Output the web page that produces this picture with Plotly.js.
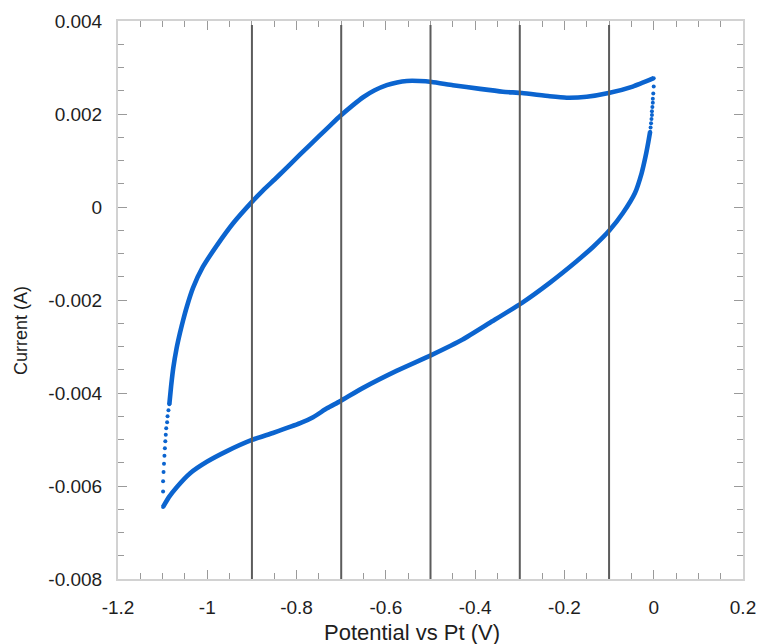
<!DOCTYPE html>
<html>
<head>
<meta charset="utf-8">
<script src="https://cdn.plot.ly/plotly-3.0.1.min.js"></script>
<style>
  html, body { margin: 0; padding: 0; background: #ffffff; }
  #chart { width: 759px; height: 644px; }
</style>
</head>
<body>
<div id="chart"></div>
<script>
// ---- Data (potential in V, current in A) ----
// Cathodic sweep: 0 V -> -1.1 V (sparse points right after reversal at 0 V)
const cathodicDotsX = [0.000, 0.000, -0.001, -0.002, -0.002, -0.003, -0.004, -0.004, -0.005, -0.006, -0.007, -0.008];
const cathodicDotsY = [0.00277, 0.00259, 0.00244, 0.00233, 0.00224, 0.00215, 0.00206, 0.00198, 0.00189, 0.00180, 0.00171, 0.00162];
const cathodicX = [-0.008, -0.012, -0.018, -0.027, -0.042, -0.069, -0.098, -0.136, -0.172, -0.233, -0.295, -0.367, -0.428, -0.497, -0.575, -0.651, -0.703, -0.732, -0.763, -0.792, -0.853, -0.900, -0.956, -1.001, -1.039, -1.068, -1.086, -1.099];
const cathodicY = [0.00162, 0.00140, 0.00110, 0.00073, 0.00030, -0.00013, -0.00049, -0.00086, -0.00116, -0.00163, -0.00206, -0.00249, -0.00285, -0.00318, -0.00352, -0.00389, -0.00418, -0.00433, -0.00452, -0.00465, -0.00486, -0.00501, -0.00525, -0.00548, -0.00573, -0.00602, -0.00624, -0.00645];

// Anodic sweep: -1.1 V -> 0 V (sparse points right after reversal at -1.1 V)
const anodicDotsX = [-1.099, -1.099, -1.099, -1.098, -1.097, -1.096, -1.095, -1.094, -1.093, -1.092, -1.090, -1.089, -1.087, -1.085];
const anodicDotsY = [-0.00645, -0.00612, -0.00590, -0.00570, -0.00552, -0.00535, -0.00519, -0.00504, -0.00490, -0.00476, -0.00463, -0.00450, -0.00437, -0.00424];
const anodicX = [-1.085, -1.081, -1.076, -1.069, -1.061, -1.054, -1.046, -1.032, -1.010, -0.978, -0.943, -0.900, -0.875, -0.844, -0.792, -0.748, -0.725, -0.703, -0.675, -0.651, -0.625, -0.598, -0.575, -0.553, -0.525, -0.497, -0.450, -0.389, -0.338, -0.295, -0.233, -0.195, -0.150, -0.101, -0.047, 0.000];
const anodicY = [-0.00424, -0.00385, -0.00345, -0.00305, -0.00270, -0.00243, -0.00215, -0.00174, -0.00129, -0.00082, -0.00036, 0.00011, 0.00036, 0.00064, 0.00113, 0.00154, 0.00175, 0.00195, 0.00218, 0.00236, 0.00251, 0.00262, 0.00268, 0.00271, 0.00271, 0.00269, 0.00262, 0.00254, 0.00248, 0.00245, 0.00238, 0.00235, 0.00237, 0.00245, 0.00259, 0.00277];

// Vertical marker lines (V)
const markerPotentials = [-0.9, -0.7, -0.5, -0.3, -0.1];

// Tick labels
const xTickVals = [-1.2, -1.0, -0.8, -0.6, -0.4, -0.2, 0.0, 0.2];
const xTickText = ["-1.2", "-1", "-0.8", "-0.6", "-0.4", "-0.2", "0", "0.2"];
const yTickVals = [0.004, 0.002, 0, -0.002, -0.004, -0.006, -0.008];
const yTickText = ["0.004", "0.002", "0", "-0.002", "-0.004", "-0.006", "-0.008"];

// Axis titles
const xTitle = "Potential vs Pt (V)";
const yTitle = "Current (A)";

// ---- Styling ----
const BLUE = "#0b64cf";
const FONT = "Liberation Sans, Arial, Helvetica, sans-serif";

const traces = [
  { x: cathodicDotsX, y: cathodicDotsY, mode: "markers", type: "scatter",
    marker: { color: BLUE, size: 4 }, hoverinfo: "skip" },
  { x: cathodicX, y: cathodicY, mode: "lines", type: "scatter",
    line: { color: BLUE, width: 4.6, shape: "spline", smoothing: 0.5 }, hoverinfo: "skip" },
  { x: anodicDotsX, y: anodicDotsY, mode: "markers", type: "scatter",
    marker: { color: BLUE, size: 4 }, hoverinfo: "skip" },
  { x: anodicX, y: anodicY, mode: "lines", type: "scatter",
    line: { color: BLUE, width: 4.6, shape: "spline", smoothing: 0.5 }, hoverinfo: "skip" }
];

const shapes = markerPotentials.map(v => ({
  type: "line", xref: "x", yref: "paper", x0: v, x1: v, y0: 0, y1: 0.993,
  line: { color: "#5c5c5c", width: 2 }, layer: "above"
}));

const axisCommon = {
  showgrid: false, zeroline: false,
  showline: true, linecolor: "#d2d2d2", linewidth: 2, mirror: "ticks",
  ticks: "inside", ticklen: 9, tickwidth: 1, tickcolor: "#9a9a9a",
  tickfont: { family: FONT, size: 19, color: "#1e1e1e" },
  ticklabelstandoff: 10
};

const layout = {
  width: 759, height: 644,
  margin: { l: 118, r: 16, t: 21, b: 65 },
  paper_bgcolor: "#ffffff", plot_bgcolor: "#ffffff",
  showlegend: false,
  shapes: shapes,
  annotations: [
    { text: xTitle, xref: "paper", yref: "paper", x: 0.4704, y: -0.095,
      xanchor: "center", yanchor: "middle", showarrow: false,
      font: { family: FONT, size: 22, color: "#1e1e1e" } },
    { text: yTitle, xref: "paper", yref: "paper", x: -0.1552, y: 0.4444,
      xanchor: "center", yanchor: "middle", showarrow: false, textangle: -90,
      font: { family: FONT, size: 18, color: "#1e1e1e" } }
  ],
  xaxis: Object.assign({}, axisCommon, {
    range: [-1.2, 0.2], tickmode: "array", tickvals: xTickVals, ticktext: xTickText,
    minor: { tickmode: "linear", tick0: 0, dtick: 0.05, ticks: "inside", ticklen: 6, tickcolor: "#9a9a9a", showgrid: false }
  }),
  yaxis: Object.assign({}, axisCommon, {
    range: [-0.008, 0.004], tickmode: "array", tickvals: yTickVals, ticktext: yTickText,
    minor: { tickmode: "linear", tick0: 0, dtick: 0.0005, ticks: "inside", ticklen: 6, tickcolor: "#9a9a9a", showgrid: false }
  })
};

Plotly.newPlot("chart", traces, layout, { displayModeBar: false, staticPlot: true });
</script>
</body>
</html>
